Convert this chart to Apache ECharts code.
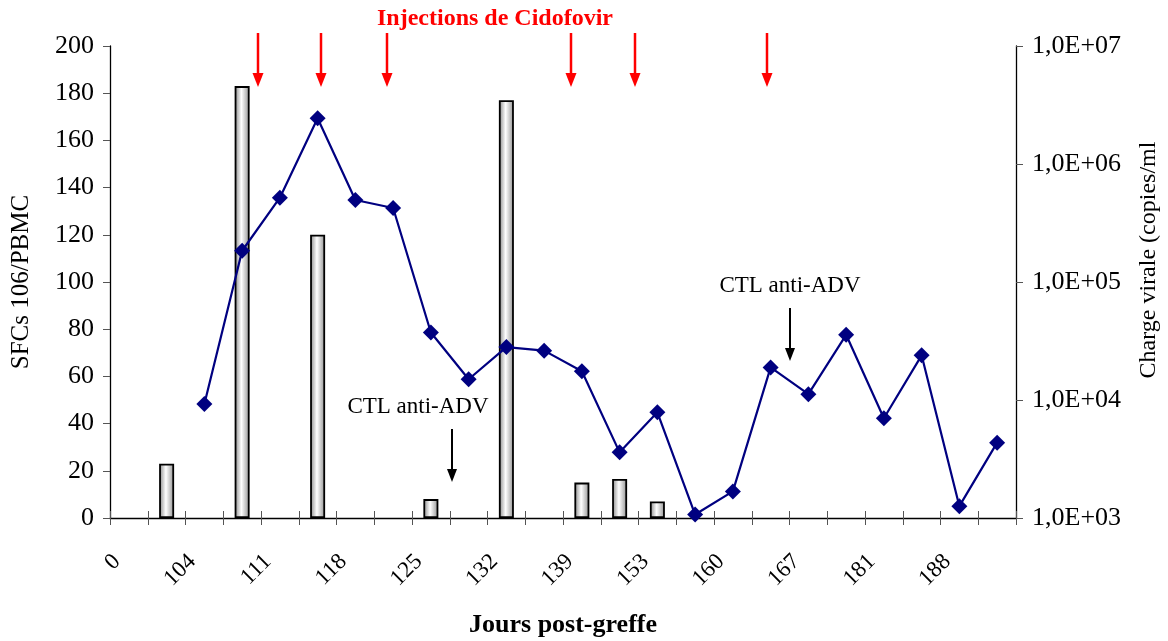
<!DOCTYPE html>
<html>
<head>
<meta charset="utf-8">
<script src="https://cdn.jsdelivr.net/npm/echarts@6/dist/echarts.min.js"></script>
<style>
  html, body { margin: 0; padding: 0; background: #fff; }
  #chart { width: 1168px; height: 641px; }
</style>
</head>
<body>
<div id="chart"></div>
<script>
// Day labels shown under every other category slot
const tickLabels = ['0', '104', '111', '118', '125', '132', '139', '153', '160', '167', '181', '188'];

// SFCs per 10^6 PBMC (bars, left axis); null = no measurement
const sfcValues = [null, 23, null, 183, null, 120, null, null, 8, null, 177, null,
                   15, 16.5, 7, null, null, null, null, null, null, null, null, null];

// Viral load in copies/ml (line, right log axis)
const viralLoad = [null, null, 9250, 184000, 518000, 2440000, 495000, 424000, 37300, 15000,
                   28100, 26200, 17500, 3600, 7870, 1070, 1680, 18900, 11200, 35700,
                   7000, 23900, 1260, 4350];

// Category slots: labelled slots alternate with unlabelled ones
const categories = [];
tickLabels.forEach(function (t) { categories.push(t); categories.push(''); });

const serif = '"Liberation Serif", "Times New Roman", serif';

const chart = echarts.init(document.getElementById('chart'), null, { renderer: 'canvas' });

function arrow(x, y1, y2, color, w, headW, headH) {
  return [
    { type: 'line', shape: { x1: x, y1: y1, x2: x, y2: y2 - headH + 1 },
      style: { stroke: color, lineWidth: w } },
    { type: 'polygon', shape: { points: [[x - headW / 2, y2 - headH], [x + headW / 2, y2 - headH], [x, y2]] },
      style: { fill: color } }
  ];
}

let graphics = [
  { type: 'text', style: { text: 'Injections de Cidofovir', x: 495, y: 19,
      align: 'center', verticalAlign: 'middle', fill: '#ff0000', font: 'bold 24px ' + serif } },
  { type: 'text', style: { text: 'CTL anti-ADV', x: 418, y: 407, align: 'center', verticalAlign: 'middle',
      fill: '#000', font: '23px ' + serif } },
  { type: 'text', style: { text: 'CTL anti-ADV', x: 790, y: 286, align: 'center', verticalAlign: 'middle',
      fill: '#000', font: '23px ' + serif } },
  { type: 'text', x: 1149, y: 260, rotation: Math.PI / 2,
    style: { text: 'Charge virale (copies/ml', x: 0, y: 0, align: 'center', verticalAlign: 'middle',
      fill: '#000', font: '24px ' + serif } }
];

[258, 321, 387, 571, 635, 767].forEach(function (x) {
  graphics = graphics.concat(arrow(x, 33, 87, '#ff0000', 2.5, 11, 14));
});
graphics = graphics.concat(arrow(452, 429, 482, '#000', 2, 10, 13));
graphics = graphics.concat(arrow(790, 308, 361, '#000', 2, 10, 13));

const option = {
  animation: false,
  backgroundColor: '#fff',
  grid: { left: 110, right: 152, top: 46, bottom: 123, containLabel: false, outerBoundsMode: 'none' },
  xAxis: [
    {
      type: 'category',
      data: categories,
      boundaryGap: true,
      name: 'Jours post-greffe',
      nameLocation: 'middle',
      nameGap: 94,
      nameTextStyle: { fontFamily: serif, fontWeight: 'bold', fontSize: 26, color: '#000' },
      axisLine: { lineStyle: { color: '#000', width: 1.3 } },
      axisTick: { show: true, interval: 0, length: 7, lineStyle: { color: '#555' } },
      axisLabel: { interval: 1, rotate: 45, fontFamily: serif, fontSize: 23, color: '#000',
                   margin: 28, padding: [0, 17, 0, 0] },
      splitLine: { show: false }
    },
    {
      // inward half of the crossing tick marks
      type: 'category',
      data: categories,
      position: 'bottom',
      boundaryGap: true,
      axisLine: { show: false },
      axisTick: { show: true, inside: true, interval: 0, length: 7, lineStyle: { color: '#555' } },
      axisLabel: { show: false },
      splitLine: { show: false }
    }
  ],
  yAxis: [
    {
      type: 'value',
      min: 0, max: 200, interval: 20,
      name: 'SFCs 106/PBMC',
      nameLocation: 'middle',
      nameGap: 76,
      nameTextStyle: { fontFamily: serif, fontSize: 25, color: '#000' },
      axisLine: { show: true, lineStyle: { color: '#000', width: 1.3 } },
      axisTick: { show: true, length: 7, lineStyle: { color: '#555' } },
      axisLabel: { fontFamily: serif, fontSize: 26, color: '#000', margin: 16 },
      splitLine: { show: false }
    },
    {
      type: 'log',
      logBase: 10,
      min: 1000, max: 10000000,
      position: 'right',
      axisLine: { show: true, lineStyle: { color: '#000', width: 1.3 } },
      axisTick: { show: true, length: 7, lineStyle: { color: '#555' } },
      axisLabel: {
        fontFamily: serif, fontSize: 26, color: '#000', margin: 16,
        formatter: function (v) {
          const e = Math.round(Math.log10(v));
          return '1,0E+' + (e < 10 ? '0' + e : e);
        }
      },
      splitLine: { show: false }
    }
  ],
  series: [
    {
      type: 'bar',
      yAxisIndex: 0,
      data: sfcValues,
      barWidth: 15,
      itemStyle: {
        borderColor: '#000',
        borderWidth: 1.8,
        color: new echarts.graphic.LinearGradient(0, 0, 1, 0, [
          { offset: 0, color: '#858585' },
          { offset: 0.45, color: '#ffffff' },
          { offset: 1, color: '#8f8f8f' }
        ])
      }
    },
    {
      type: 'line',
      yAxisIndex: 1,
      data: viralLoad,
      symbol: 'diamond',
      symbolSize: 16,
      lineStyle: { color: '#000080', width: 2.2 },
      itemStyle: { color: '#000080' },
      z: 3
    }
  ],
  graphic: graphics
};

chart.setOption(option);
</script>
</body>
</html>
